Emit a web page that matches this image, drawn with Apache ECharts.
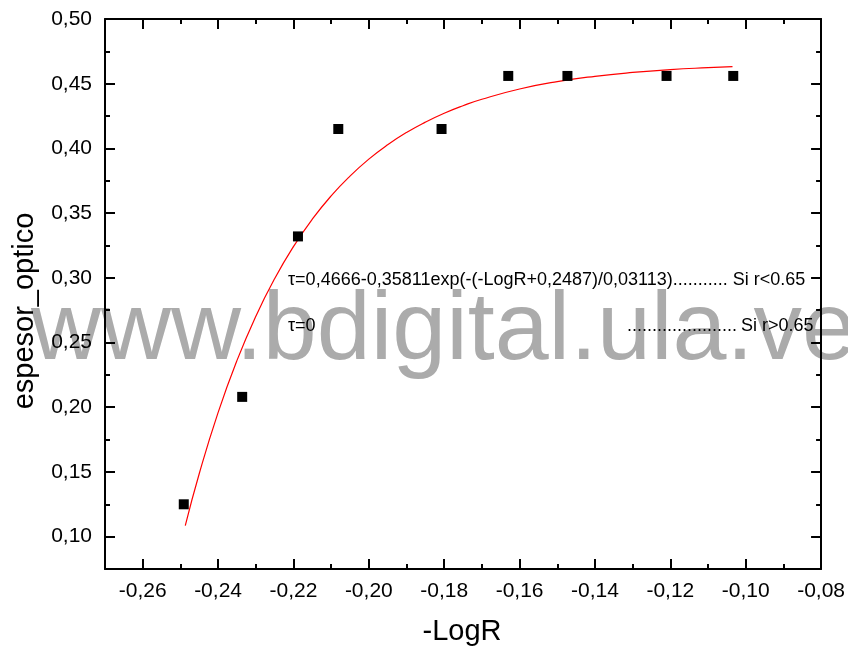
<!DOCTYPE html>
<html><head><meta charset="utf-8">
<script src="https://cdn.jsdelivr.net/npm/echarts@6/dist/echarts.min.js"></script>
<style>html,body{margin:0;padding:0;background:#fff}#c{width:848px;height:647px}</style>
</head><body><div id="c"></div>
<script>
// Tick values
const xMajorTicks = [-0.26, -0.24, -0.22, -0.20, -0.18, -0.16, -0.14, -0.12, -0.10, -0.08];
const xMinorTicks = [-0.25, -0.23, -0.21, -0.19, -0.17, -0.15, -0.13, -0.11, -0.09];
const yMajorTicks = [0.10, 0.15, 0.20, 0.25, 0.30, 0.35, 0.40, 0.45, 0.50];
const yMinorTicks = [0.125, 0.175, 0.225, 0.275, 0.325, 0.375, 0.425, 0.475];

// Measured points (-LogR, espesor_optico)
const logR = [-0.2491, -0.2336, -0.2188, -0.2081, -0.1807, -0.1630, -0.1473, -0.1210, -0.1033];
const espesor = [0.125, 0.208, 0.332, 0.415, 0.415, 0.456, 0.456, 0.456, 0.456];

// Fitted curve
const fitX = [-0.2487, -0.245, -0.24, -0.235, -0.23, -0.225, -0.22, -0.215, -0.21, -0.205, -0.20, -0.195, -0.19, -0.185, -0.18, -0.175, -0.17, -0.16, -0.15, -0.14, -0.13, -0.12, -0.11, -0.1035];
const fitY = [0.1085, 0.1486, 0.1958, 0.2360, 0.2702, 0.2993, 0.3241, 0.3453, 0.3633, 0.3786, 0.3917, 0.4028, 0.4123, 0.4203, 0.4272, 0.4330, 0.4380, 0.4459, 0.4516, 0.4557, 0.4587, 0.4609, 0.4624, 0.4632];

const xTitle = '-LogR';
const yTitle = 'espesor_optico';
const formula1 = 'τ=0,4666-0,35811exp(-(-LogR+0,2487)/0,03113)........... Si r<0.65';
const formula2a = 'τ=0';
const formula2b = '......................';
const formula2c = 'Si r>0.65';
const watermark = 'www.bdigital.ula.ve';

const FONT = "'Liberation Sans', Arial, sans-serif";
const fmt = v => v.toFixed(2).replace('.', ',');

function xAx(pos, ticks, len, showLine, showLabel) {
  return {
    type: 'value', position: pos, min: -0.27, max: -0.08,
    axisLine: {show: showLine, onZero: false, lineStyle: {color: '#000', width: 2}},
    axisTick: {show: true, inside: true, length: len, customValues: ticks, lineStyle: {color: '#000', width: 2}},
    axisLabel: {show: showLabel, customValues: ticks, formatter: fmt, margin: 12,
      fontFamily: FONT, fontSize: 21, color: '#000'},
    splitLine: {show: false}
  };
}
function yAx(pos, ticks, len, showLine, showLabel) {
  return {
    type: 'value', position: pos, min: 0.075, max: 0.50,
    axisLine: {show: showLine, onZero: false, lineStyle: {color: '#000', width: 2}},
    axisTick: {show: true, inside: true, length: len, customValues: ticks, lineStyle: {color: '#000', width: 2}},
    axisLabel: {show: showLabel, customValues: ticks, formatter: fmt, margin: 13,
      fontFamily: FONT, fontSize: 21, color: '#000'},
    splitLine: {show: false}
  };
}

const chart = echarts.init(document.getElementById('c'), null, {renderer: 'canvas'});
chart.setOption({
  animation: false,
  backgroundColor: '#fff',
  grid: {left: 105, right: 26, top: 19, bottom: 78, containLabel: false},
  xAxis: [
    xAx('bottom', xMajorTicks, 10, true, true),
    xAx('bottom', xMinorTicks, 5, false, false),
    xAx('top', xMajorTicks, 10, true, false),
    xAx('top', xMinorTicks, 5, false, false)
  ],
  yAxis: [
    yAx('left', yMajorTicks, 10, true, true),
    yAx('left', yMinorTicks, 5, false, false),
    yAx('right', yMajorTicks, 10, true, false),
    yAx('right', yMinorTicks, 5, false, false)
  ],
  graphic: [
    {type: 'text', z: -1, x: 31, y: 332,
      style: {text: watermark, font: "97px " + FONT, fill: '#ababab', textAlign: 'left', textVerticalAlign: 'middle'}},
    {type: 'text', z: 10, x: 462, y: 632,
      style: {text: xTitle, font: "29px " + FONT, fill: '#000', textAlign: 'center', textVerticalAlign: 'middle'}},
    {type: 'text', z: 10, x: 25, y: 311, rotation: Math.PI / 2,
      style: {text: yTitle, font: "29px " + FONT, fill: '#000', textAlign: 'center', textVerticalAlign: 'middle'}},
    {type: 'text', z: 10, x: 288, y: 280,
      style: {text: formula1, font: "18px " + FONT, fill: '#000', textAlign: 'left', textVerticalAlign: 'middle'}},
    {type: 'text', z: 10, x: 288, y: 326,
      style: {text: formula2a, font: "18px " + FONT, fill: '#000', textAlign: 'left', textVerticalAlign: 'middle'}},
    {type: 'text', z: 10, x: 627, y: 326,
      style: {text: formula2b, font: "18px " + FONT, fill: '#000', textAlign: 'left', textVerticalAlign: 'middle'}},
    {type: 'text', z: 10, x: 741, y: 326,
      style: {text: formula2c, font: "18px " + FONT, fill: '#000', textAlign: 'left', textVerticalAlign: 'middle'}}
  ],
  series: [
    {type: 'line', xAxisIndex: 0, yAxisIndex: 0, smooth: true, showSymbol: false, symbol: 'none',
      lineStyle: {color: '#ff0000', width: 1.2}, z: 3,
      data: fitX.map((x, i) => [x, fitY[i]])},
    {type: 'scatter', xAxisIndex: 0, yAxisIndex: 0, symbol: 'rect', symbolSize: 10,
      itemStyle: {color: '#000', opacity: 1}, z: 4,
      data: logR.map((x, i) => [x, espesor[i]])}
  ]
});
</script>
</body></html>
